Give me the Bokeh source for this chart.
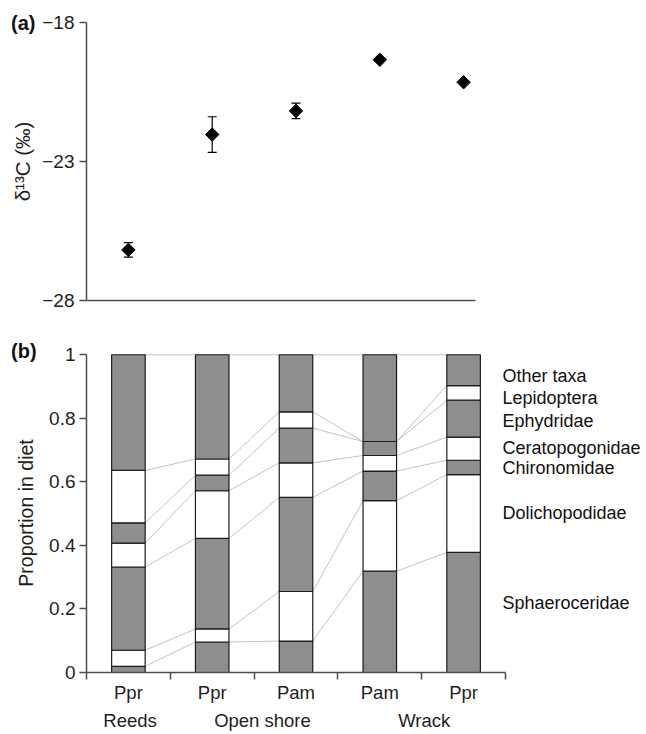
import numpy as np
from bokeh.plotting import figure
from bokeh.models import Range1d, FixedTicker, LinearAxis, Label, Whisker, ColumnDataSource, TeeHead
from bokeh.layouts import column
from bokeh.embed import file_html
from bokeh.resources import INLINE
from bokeh.core.properties import value

FONT = "Liberation Sans"
AXIS_COL = "#4d4d4d"
TXT = "#1e1e1e"

# ---------------- data ----------------
# Panel (a): delta 13C of the samples (mean, error)
sites_a = ["Reeds Ppr", "Open shore Ppr", "Open shore Pam", "Wrack Pam", "Wrack Ppr"]
d13c_mean = [-26.18, -22.03, -21.18, -19.34, -20.15]
d13c_err = [0.26, 0.64, 0.28, 0.0, 0.0]
a_ticks = [-28, -23, -18]

# Panel (b): proportion in diet
plant = ["Ppr", "Ppr", "Pam", "Pam", "Ppr"]
habitat_groups = ["Reeds", "Open shore", "Wrack"]
taxa = ["Sphaeroceridae", "Dolichopodidae", "Chironomidae", "Ceratopogonidae",
        "Ephydridae", "Lepidoptera", "Other taxa"]
sphaeroceridae = [0.019, 0.096, 0.099, 0.319, 0.378]
dolichopodidae = [0.051, 0.041, 0.156, 0.222, 0.245]
chironomidae = [0.262, 0.285, 0.296, 0.093, 0.045]
ceratopogonidae = [0.075, 0.150, 0.109, 0.049, 0.073]
ephydridae = [0.064, 0.049, 0.109, 0.044, 0.116]
lepidoptera = [0.165, 0.051, 0.051, 0.000, 0.046]
other_taxa = [0.364, 0.328, 0.180, 0.273, 0.097]
b_ticks = [0, 0.2, 0.4, 0.6, 0.8, 1]

# label placement (not data)
taxa_label_y = [0.22, 0.502, 0.644, 0.706, 0.793, 0.865, 0.932]
group_label_x = [0.52, 2.1, 4.03]

# ---------------- layout constants ----------------
W = 646
LEFT = 86
XMAX = (W - LEFT) / 83.8      # 5 categories span ~419 px
BAR_W = 0.4

n = len(plant)
xc = [i + 0.5 for i in range(n)]


def style_left_axis(ax, label, label_size, label_standoff):
    ax.major_tick_out = 7
    ax.major_tick_in = 0
    ax.minor_tick_line_color = None
    ax.axis_line_color = AXIS_COL
    ax.axis_line_width = 1.5
    ax.major_tick_line_color = AXIS_COL
    ax.major_tick_line_width = 1.5
    ax.major_label_text_font = FONT
    ax.major_label_text_font_size = "19px"
    ax.major_label_text_color = TXT
    ax.major_label_standoff = 5
    ax.axis_label = label
    ax.axis_label_text_font = FONT
    ax.axis_label_text_font_size = label_size
    ax.axis_label_text_font_style = "normal"
    ax.axis_label_text_color = TXT
    ax.axis_label_standoff = label_standoff


# ---------------- panel (a) ----------------
p1 = figure(width=W, height=314, x_range=Range1d(0, XMAX), y_range=Range1d(-28, -18),
            output_backend="svg", toolbar_location=None,
            min_border_left=LEFT, min_border_right=0, min_border_top=22, min_border_bottom=14)
p1.grid.visible = False
p1.outline_line_color = None

src_a = ColumnDataSource(dict(
    x=xc, y=d13c_mean,
    lo=[m - e for m, e in zip(d13c_mean, d13c_err)],
    hi=[m + e for m, e in zip(d13c_mean, d13c_err)],
))
wh = Whisker(source=src_a, base="x", lower="lo", upper="hi",
             line_color="black", line_width=1.2,
             upper_head=TeeHead(size=9, line_color="black", line_width=1.2),
             lower_head=TeeHead(size=9, line_color="black", line_width=1.2))
p1.add_layout(wh)
p1.scatter("x", "y", source=src_a, marker="square", angle=np.pi / 4, size=9.5,
           fill_color="black", line_color="black")

ya = p1.yaxis[0]
ya.ticker = FixedTicker(ticks=a_ticks)
ya.major_label_overrides = {t: "\u2212" + str(abs(t)) for t in a_ticks}
style_left_axis(ya, "\u03b4\u00b9\u00b3C (\u2030)", "20.5px", 5)

xa = p1.xaxis[0]
xa.ticker = FixedTicker(ticks=[])
xa.bounds = (0, 4.64)
xa.axis_line_color = AXIS_COL
xa.axis_line_width = 1.5
xa.major_tick_line_color = None
xa.minor_tick_line_color = None
xa.major_label_text_font_size = "0px"

# panel tag (a): label placed in a side panel so that it is not clipped to the frame
p1.add_layout(Label(x=-0.9, y=-18, text="(a)", text_font=FONT, text_font_size="20px",
                    text_font_style="bold", text_baseline="middle", text_align="left",
                    text_color="#111111"), "above")

# ---------------- panel (b) ----------------
p2 = figure(width=W, height=419, x_range=Range1d(0, XMAX), y_range=Range1d(0, 1.004),
            output_backend="svg", toolbar_location=None,
            min_border_left=LEFT, min_border_right=0, min_border_top=39, min_border_bottom=60)
p2.grid.visible = False
p2.outline_line_color = None

parts = [sphaeroceridae, dolichopodidae, chironomidae, ceratopogonidae,
         ephydridae, lepidoptera, other_taxa]
arr = np.array(parts)            # taxa x sites
tops = np.cumsum(arr, axis=0)
bottoms = tops - arr

# connecting lines between adjacent bars at each boundary
x0s, y0s, x1s, y1s = [], [], [], []
for j in range(len(taxa)):
    for i in range(n - 1):
        x0s.append(xc[i] + BAR_W / 2)
        y0s.append(float(tops[j, i]))
        x1s.append(xc[i + 1] - BAR_W / 2)
        y1s.append(float(tops[j, i + 1]))
p2.segment(x0=x0s, y0=y0s, x1=x1s, y1=y1s, line_color="#c4c4c4", line_width=1)

for j in range(len(taxa)):
    fill = "#8e8e8e" if j % 2 == 0 else "white"
    p2.vbar(x=xc, bottom=list(bottoms[j]), top=list(tops[j]), width=BAR_W,
            fill_color=fill, line_color="#1a1a1a", line_width=1.2)

p2.text(x=[4.964] * len(taxa), y=taxa_label_y, text=taxa,
        text_font=value(FONT), text_font_size="18px", text_baseline="middle",
        text_align="left", text_color="#111111")

yb = p2.yaxis[0]
yb.ticker = FixedTicker(ticks=b_ticks)
yb.major_label_overrides = {t: ("%g" % t) for t in b_ticks}
yb.bounds = (0, 1)
style_left_axis(yb, "Proportion in diet", "19.5px", 9)
yb.major_label_standoff = 4

xb = p2.xaxis[0]
xb.ticker = FixedTicker(ticks=xc, minor_ticks=list(range(n + 1)))
xb.major_label_overrides = {x: lab for x, lab in zip(xc, plant)}
xb.bounds = (0, n)
xb.axis_line_color = AXIS_COL
xb.axis_line_width = 1.5
xb.major_tick_out = 0
xb.major_tick_in = 0
xb.major_tick_line_color = None
xb.minor_tick_out = 7
xb.minor_tick_in = 0
xb.minor_tick_line_color = AXIS_COL
xb.minor_tick_line_width = 1.5
xb.major_label_text_font = FONT
xb.major_label_text_font_size = "18.5px"
xb.major_label_text_color = TXT
xb.major_label_standoff = 2

xg = LinearAxis(ticker=FixedTicker(ticks=group_label_x),
                major_label_overrides={x: g for x, g in zip(group_label_x, habitat_groups)},
                axis_line_color=None, major_tick_line_color=None, minor_tick_line_color=None,
                major_tick_out=0, major_tick_in=0,
                major_label_text_font=FONT, major_label_text_font_size="18.5px",
                major_label_text_color=TXT, major_label_standoff=4)
p2.add_layout(xg, "below")

# panel tag (b)
p2.add_layout(Label(x=-0.9, y=1.011, text="(b)", text_font=FONT, text_font_size="20px",
                    text_font_style="bold", text_baseline="middle", text_align="left",
                    text_color="#111111"), "above")

layout = column(p1, p2, spacing=0)
open("out.html", "w").write(file_html(layout, INLINE))
